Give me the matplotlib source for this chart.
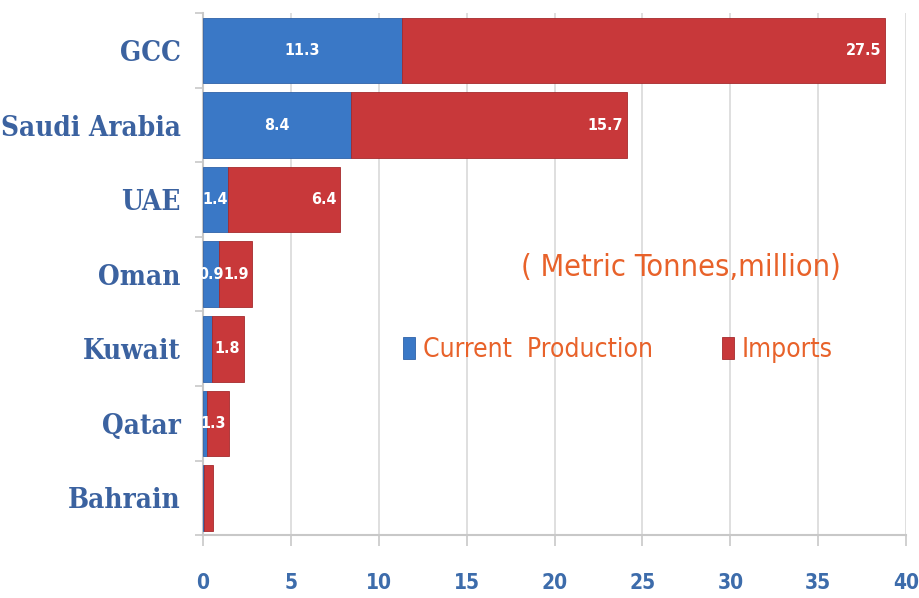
import numpy as np
import matplotlib.pyplot as plt

# Dados (milhões de toneladas métricas)
paises = ['GCC', 'Saudi Arabia', 'UAE', 'Oman', 'Kuwait', 'Qatar', 'Bahrain']
producao = [11.3, 8.4, 1.4, 0.9, 0.5, 0.2, 0.05]
importacoes = [27.5, 15.7, 6.4, 1.9, 1.8, 1.3, 0.5]
rotulos_prod = ['11.3', '8.4', '1.4', '0.9', '', '', '']
rotulos_imp = ['27.5', '15.7', '6.4', '1.9', '1.8', '1.3', '']
xticks = [0, 5, 10, 15, 20, 25, 30, 35, 40]

azul = '#3a78c6'
vermelho = '#c8383a'
laranja = '#e8622a'
azul_texto = '#3b62a0'
cinza = '#c8c8c8'
fonte_serif = ['DejaVu Serif', 'Liberation Serif']
fonte_narrow = ['DejaVu Sans', 'Liberation Sans']

fig = plt.figure(figsize=(9.19, 5.98), dpi=100)
ax = fig.add_axes([0.221, 0.105, 0.765, 0.873])

y = np.arange(len(paises))
b1 = ax.barh(y, producao, height=0.88, color=azul, edgecolor='#2f62a8', linewidth=0.6,
             label='Current  Production', zorder=3)
b2 = ax.barh(y, importacoes, left=producao, height=0.88, color=vermelho, edgecolor='#a52a2c',
             linewidth=0.6, label='Imports', zorder=3)

# Rótulos de valores
for i in range(len(paises)):
    if rotulos_prod[i]:
        ax.text(producao[i] / 2, y[i], rotulos_prod[i], ha='center', va='center', color='white',
                fontsize=11.5, fontweight='bold', family=fonte_narrow, fontstretch='condensed',
                zorder=4)
    if rotulos_imp[i]:
        ax.annotate(rotulos_imp[i], xy=(producao[i] + importacoes[i], y[i]), xytext=(-2.5, 0),
                    textcoords='offset points', ha='right', va='center', color='white',
                    fontsize=11.5, fontweight='bold', family=fonte_narrow,
                    fontstretch='condensed', zorder=4)

ax.set_xlim(0, 40)
ax.set_ylim(len(paises) - 0.5, -0.5)
ax.set_xticks(xticks)
ax.set_xticklabels([str(v) for v in xticks], family=fonte_narrow, fontsize=15,
                   fontweight='bold', fontstretch='condensed', color='#3d6cab')
ax.set_yticks(y)
ax.set_yticklabels(paises, family=fonte_serif, fontsize=20, fontweight='bold',
                   fontstretch='condensed', color=azul_texto)
ax.set_yticks(np.arange(len(paises) + 1) - 0.5, minor=True)
ax.tick_params(axis='y', which='major', length=0, pad=16)
ax.tick_params(axis='y', which='minor', length=6, color=cinza, width=1.2)
ax.tick_params(axis='x', length=8, color=cinza, width=1.2, pad=19)

ax.grid(axis='x', color='#d9d9d9', linewidth=1.2, zorder=0)
for lado in ['top', 'right']:
    ax.spines[lado].set_visible(False)
for lado in ['left', 'bottom']:
    ax.spines[lado].set_color(cinza)
    ax.spines[lado].set_linewidth(1.5)

ax.text(0.68, 0.512, '( Metric Tonnes,million)', transform=ax.transAxes, ha='center',
        va='center', color=laranja, fontsize=22, family=fonte_narrow, fontstretch='condensed')

leg = ax.legend(loc='center', bbox_to_anchor=(0.59, 0.355), ncol=2, frameon=False,
                handlelength=0.45, handleheight=0.9, columnspacing=2.6, handletextpad=0.3,
                prop={'family': fonte_narrow, 'size': 19, 'stretch': 'condensed'})
for t in leg.get_texts():
    t.set_color(laranja)

plt.savefig('out.png', dpi=100)
